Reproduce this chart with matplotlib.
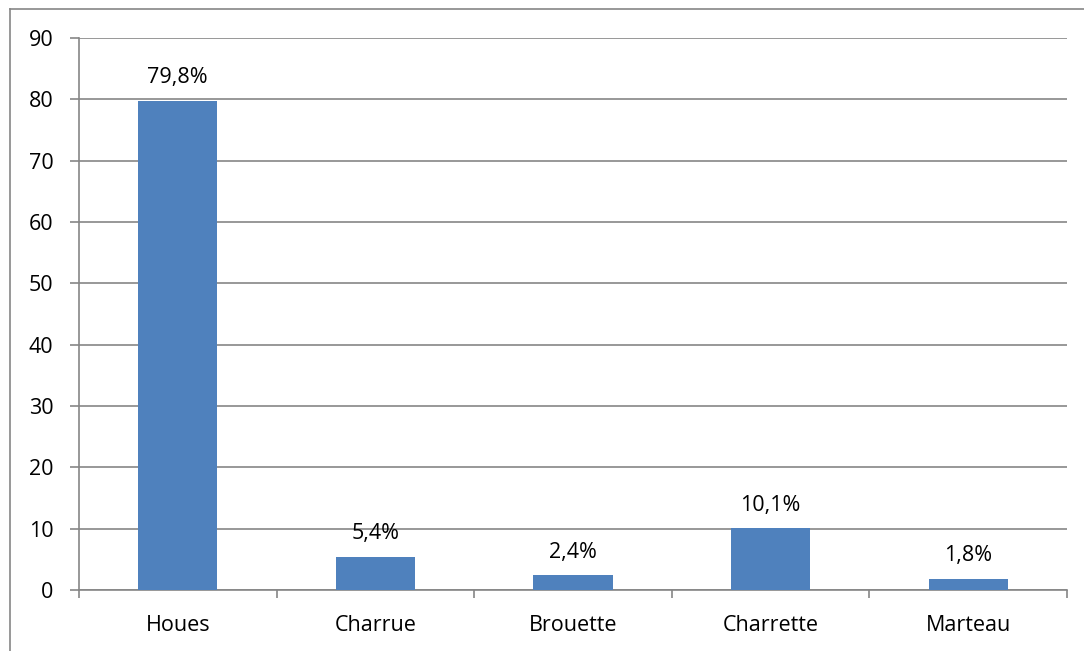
import matplotlib
matplotlib.use("Agg")
import matplotlib.pyplot as plt
from matplotlib.lines import Line2D
import numpy as np

categories = ["Houes", "Charrue", "Brouette", "Charrette", "Marteau"]
values = [79.8, 5.4, 2.4, 10.1, 1.8]
labels = ["79,8%", "5,4%", "2,4%", "10,1%", "1,8%"]
yticks = [0, 10, 20, 30, 40, 50, 60, 70, 80, 90]

plt.rcParams["font.family"] = ["Open Sans", "DejaVu Sans"]

W, H = 1084, 651
fig = plt.figure(figsize=(W / 100, H / 100), dpi=100)
ax = fig.add_axes([79 / W, 1 - 590 / H, (1067 - 79) / W, (590 - 38) / H])

grid_c = "#868686"
bar_c = "#4F81BD"
fs = 15.5

x = np.arange(len(categories))
ax.bar(x, values, width=0.4, color=bar_c, zorder=3)

for xi, v, lab in zip(x, values, labels):
    ax.annotate(lab, (xi, v), xytext=(0, 9), textcoords="offset points",
                ha="center", va="bottom", fontsize=fs, color="#000000")

ax.set_xlim(-0.5, len(categories) - 0.5)
ax.set_ylim(0, 90)
ax.set_yticks(yticks)
ax.set_yticklabels([str(t) for t in yticks])
ax.yaxis.grid(True, color=grid_c, linewidth=1.2, zorder=0)
ax.set_axisbelow(True)

# category labels centred under the bars, tick marks on the boundaries
ax.set_xticks(x)
ax.set_xticklabels(categories)
ax.set_xticks(np.arange(-0.5, len(categories)), minor=True)
ax.tick_params(axis="x", which="major", length=0, pad=18, labelsize=fs)
ax.tick_params(axis="x", which="minor", length=6, width=1.2, color=grid_c, direction="out")
ax.tick_params(axis="y", length=6.5, width=1.2, color=grid_c, pad=12, labelsize=fs)

for s in ["top", "right"]:
    ax.spines[s].set_visible(False)
for s in ["left", "bottom"]:
    ax.spines[s].set_color(grid_c)
    ax.spines[s].set_linewidth(1.2)

# outer chart frame
fx = 10 / W
fy = 1 - 8.5 / H
fig.add_artist(Line2D([fx, fx], [-0.1, fy], transform=fig.transFigure, color=grid_c, lw=1.2))
fig.add_artist(Line2D([fx, 1.1], [fy, fy], transform=fig.transFigure, color=grid_c, lw=1.2))

fig.savefig("out.png", dpi=100)
